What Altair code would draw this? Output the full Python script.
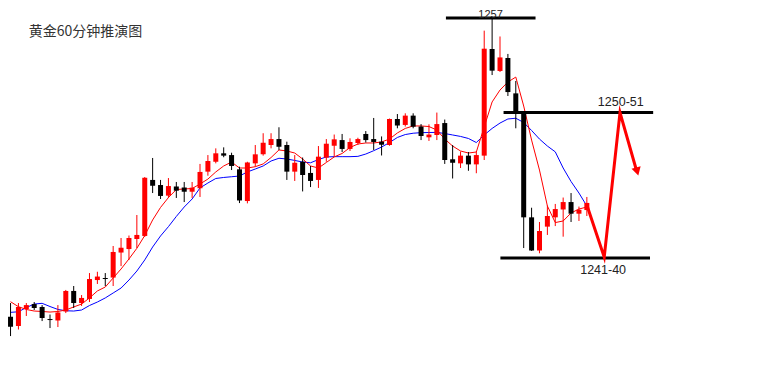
import altair as alt
import pandas as pd

title_text = "黄金60分钟推演图"

opens = [1236.47, 1235.83, 1237.00, 1237.34, 1237.14, 1236.31, 1236.21, 1236.83, 1238.24, 1237.41,
         1237.69, 1238.99, 1239.13, 1239.16, 1240.88, 1241.12, 1241.81, 1242.02, 1245.87, 1245.52,
         1244.79, 1245.42, 1245.35, 1245.06, 1245.30, 1246.44, 1247.12, 1247.70, 1247.58, 1246.60,
         1244.42, 1247.01, 1247.63, 1248.27, 1248.68, 1248.27, 1246.44, 1247.12, 1246.35, 1245.87,
         1247.40, 1248.22, 1248.61, 1248.00, 1248.41, 1249.03, 1248.68, 1248.50, 1248.27, 1250.06,
         1249.65, 1250.29, 1249.54, 1248.80, 1248.96, 1249.78, 1247.29, 1247.01, 1247.54, 1246.94,
         1247.54, 1254.87, 1253.36, 1254.25, 1251.82, 1250.47, 1243.30, 1241.02, 1242.66, 1243.30,
         1243.84, 1244.35, 1243.55, 1243.80]
highs = [1237.41, 1237.41, 1237.41, 1237.48, 1237.27, 1236.62, 1237.27, 1238.31, 1238.58, 1237.96,
         1239.47, 1239.56, 1239.47, 1241.33, 1241.88, 1242.05, 1243.46, 1246.07, 1247.38, 1245.87,
         1246.00, 1245.73, 1245.73, 1245.73, 1246.97, 1247.58, 1248.04, 1248.11, 1247.74, 1246.78,
         1247.12, 1248.27, 1249.08, 1249.08, 1249.49, 1248.50, 1247.58, 1247.41, 1246.83, 1248.20,
         1248.68, 1248.99, 1249.03, 1248.73, 1248.77, 1249.23, 1250.13, 1248.86, 1250.09, 1250.40,
         1250.45, 1250.45, 1249.71, 1249.69, 1250.50, 1250.02, 1248.27, 1247.82, 1247.79, 1247.81,
         1256.13, 1257.00, 1255.73, 1254.53, 1252.67, 1250.54, 1243.96, 1242.98, 1244.11, 1244.22,
         1244.66, 1244.97, 1244.04, 1244.70]
lows = [1235.14, 1235.59, 1236.52, 1236.93, 1236.17, 1235.69, 1235.76, 1236.72, 1237.07, 1237.21,
        1237.48, 1238.72, 1238.58, 1238.58, 1239.95, 1240.37, 1241.19, 1241.95, 1244.97, 1244.56,
        1244.63, 1244.63, 1244.35, 1244.63, 1244.70, 1246.16, 1247.01, 1247.43, 1246.55, 1244.28,
        1244.26, 1246.78, 1247.54, 1248.04, 1247.93, 1245.87, 1245.80, 1245.08, 1245.38, 1245.32,
        1247.12, 1247.48, 1247.79, 1247.86, 1248.27, 1248.44, 1247.93, 1247.55, 1248.22, 1249.42,
        1249.54, 1249.42, 1248.61, 1248.55, 1248.61, 1246.97, 1245.97, 1246.69, 1246.50, 1246.33,
        1247.24, 1253.08, 1253.29, 1251.64, 1249.42, 1241.19, 1240.99, 1240.83, 1242.09, 1242.70,
        1241.97, 1242.98, 1243.05, 1243.39]
closes = [1235.78, 1237.14, 1237.27, 1237.07, 1236.38, 1236.24, 1236.76, 1238.24, 1237.41, 1237.76,
          1239.06, 1239.23, 1239.06, 1240.92, 1241.21, 1241.88, 1242.09, 1246.02, 1245.47, 1244.77,
          1245.45, 1245.13, 1245.06, 1245.34, 1246.42, 1247.17, 1247.70, 1247.54, 1246.83, 1244.46,
          1247.07, 1247.63, 1248.43, 1248.68, 1248.15, 1246.44, 1247.05, 1246.21, 1245.80, 1247.47,
          1248.36, 1248.66, 1248.00, 1248.48, 1248.68, 1248.61, 1248.48, 1248.29, 1250.06, 1249.61,
          1250.29, 1249.53, 1248.89, 1248.99, 1249.71, 1247.24, 1247.05, 1247.54, 1246.94, 1247.58,
          1254.89, 1253.38, 1254.29, 1251.91, 1250.50, 1243.30, 1241.02, 1242.36, 1243.39, 1243.87,
          1244.35, 1243.55, 1243.82, 1244.29]

ma_red = [1237.50, 1237.16, 1236.97, 1236.86, 1236.83, 1236.79, 1236.83, 1236.93, 1237.14, 1237.34,
          1237.76, 1238.24, 1238.51, 1239.13, 1239.75, 1240.44, 1241.17, 1242.05, 1243.12, 1243.98,
          1244.66, 1245.21, 1245.25, 1245.28, 1245.59, 1245.93, 1246.42, 1246.83, 1247.10, 1246.69,
          1246.69, 1246.78, 1246.97, 1247.41, 1247.93, 1247.86, 1247.72, 1247.31, 1246.83, 1246.69,
          1247.07, 1247.45, 1247.69, 1248.10, 1248.34, 1248.41, 1248.41, 1248.48, 1248.68, 1249.10,
          1249.41, 1249.58, 1249.58, 1249.54, 1249.30, 1248.68, 1248.20, 1247.86, 1247.72, 1247.79,
          1249.51, 1251.23, 1252.05, 1252.60, 1252.94, 1250.95, 1248.61, 1246.55, 1244.08, 1242.94,
          1243.05, 1243.60, 1243.87, 1244.01]
ma_blue = [1236.77, 1236.81, 1237.10, 1237.34, 1237.39, 1237.17, 1236.97, 1236.88, 1236.86, 1236.93,
           1237.24, 1237.48, 1237.76, 1238.10, 1238.44, 1238.99, 1239.61, 1240.37, 1241.26, 1242.02,
           1242.66, 1243.36, 1244.01, 1244.56, 1245.32, 1245.66, 1245.97, 1246.04, 1246.09, 1246.14,
           1246.42, 1246.62, 1246.83, 1247.17, 1247.36, 1247.31, 1247.21, 1247.10, 1247.05, 1247.27,
           1247.45, 1247.47, 1247.47, 1247.47, 1247.49, 1247.65, 1247.88, 1248.13, 1248.44, 1248.79,
           1248.99, 1249.08, 1249.12, 1249.13, 1249.14, 1249.06, 1248.96, 1248.86, 1248.72, 1248.44,
           1248.96, 1249.41, 1249.78, 1250.06, 1250.11, 1249.82, 1249.27, 1248.68, 1248.20, 1247.80,
           1246.69, 1245.76, 1244.97, 1244.08]

level_prices = [1257.0, 1250.5, 1240.5]
level_start = [55.15, 62.45, 62.05]
level_end = [66.5, 81.4, 81.0]

top_label = ["1257"]
top_label_x = [60.8]
top_label_y = [1257.007]

side_labels = ["1250-51", "1241-40"]
side_label_x = [77.3, 75.06]
side_label_y = [1250.94, 1239.41]

proj_x = [73, 75.2, 77.2, 79.3]
proj_y = [1244.15, 1240.57, 1250.5, 1246.5]
arrow_x = [79.38]
arrow_y = [1246.45]

title_x = [2.3]
title_y = [1256.06]

n = len(opens)
idx = list(range(n))
candles = pd.DataFrame({
    "i": idx, "open": opens, "high": highs, "low": lows, "close": closes,
    "dir": ["up" if c >= o else "down" for o, c in zip(opens, closes)],
})
ma = pd.DataFrame({"i": idx, "red": ma_red, "blue": ma_blue})
levels = pd.DataFrame({"p": level_prices, "x0": level_start, "x1": level_end})
top_df = pd.DataFrame({"x": top_label_x, "y": top_label_y, "t": top_label})
side_df = pd.DataFrame({"x": side_label_x, "y": side_label_y, "t": side_labels})
proj = pd.DataFrame({"x": proj_x, "y": proj_y})
arrow = pd.DataFrame({"x": arrow_x, "y": arrow_y})
title_df = pd.DataFrame({"x": title_x, "y": title_y, "t": [title_text]})

xs = alt.Scale(domain=[0.3125, 95.3125], nice=False, zero=False)
ys = alt.Scale(domain=[1233.495, 1257.687], nice=False, zero=False)
col = alt.Color("dir:N", scale=alt.Scale(domain=["up", "down"], range=["#FF0000", "#000000"]), legend=None)


def X(f):
    return alt.X(f, scale=xs, axis=None)


def Y(f):
    return alt.Y(f, scale=ys, axis=None)


base = alt.Chart(candles)
wicks = base.mark_rule(strokeWidth=1).encode(x=X("i:Q"), y=Y("low:Q"), y2="high:Q", color=col)
bodies = base.mark_bar(width=5).encode(x=X("i:Q"), y=Y("open:Q"), y2="close:Q", color=col)
red_line = alt.Chart(ma).mark_line(color="#FF0000", strokeWidth=1).encode(x=X("i:Q"), y=Y("red:Q"))
blue_line = alt.Chart(ma).mark_line(color="#0000FF", strokeWidth=1).encode(x=X("i:Q"), y=Y("blue:Q"))

level_rules = alt.Chart(levels).mark_rule(color="#000000", strokeWidth=3).encode(
    x=X("x0:Q"), x2="x1:Q", y=Y("p:Q"))
top_text = alt.Chart(top_df).mark_text(
    font="Liberation Sans", fontSize=11, color="#222222", align="center", baseline="alphabetic"
).encode(x=X("x:Q"), y=Y("y:Q"), text="t:N")
side_text = alt.Chart(side_df).mark_text(
    font="Liberation Sans", fontSize=12.5, color="#222222", align="center", baseline="alphabetic"
).encode(x=X("x:Q"), y=Y("y:Q"), text="t:N")

proj_line = alt.Chart(proj).mark_line(
    color="#FF0000", strokeWidth=3, strokeJoin="miter", strokeMiterLimit=10
).encode(x=X("x:Q"), y=Y("y:Q"))
arrow_head = alt.Chart(arrow).mark_point(
    shape="triangle-down", filled=True, color="#FF0000", size=90, angle=344, opacity=1
).encode(x=X("x:Q"), y=Y("y:Q"))

title_mark = alt.Chart(title_df).mark_text(
    font="Noto Sans CJK SC", fontSize=14, color="#333333", align="left", baseline="middle"
).encode(x=X("x:Q"), y=Y("y:Q"), text="t:N")

chart = alt.layer(
    blue_line, red_line, wicks, bodies, level_rules, top_text, side_text,
    proj_line, arrow_head, title_mark
).properties(
    width=760, height=352, padding=0,
    autosize=alt.AutoSizeParams(type="none"),
).configure_view(strokeWidth=0)

chart.save("out.html", embed_options={"renderer": "svg", "actions": False})
